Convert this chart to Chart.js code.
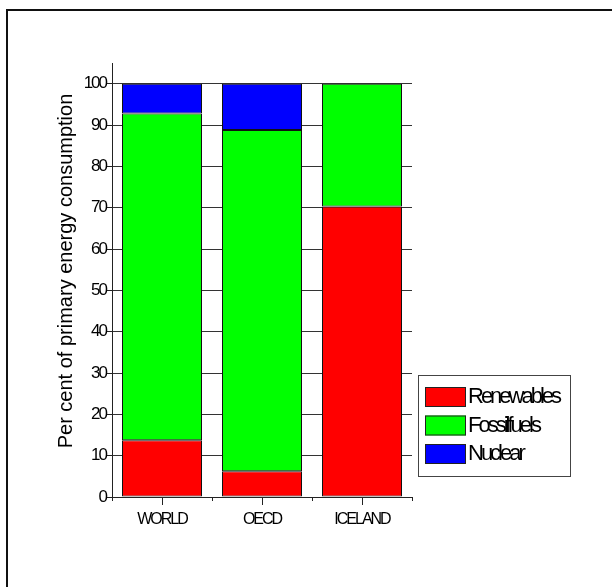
<!DOCTYPE html>
<html>
<head>
<meta charset="utf-8">
<script src="https://cdn.jsdelivr.net/npm/chart.js@4/dist/chart.umd.min.js"></script>
<style>
  body { margin: 0; background: #fff; }
  #frame {
    position: absolute; left: 6px; top: 9px; width: 700px; height: 700px;
    border-left: 2px solid #111; border-top: 2px solid #111;
  }
  #wrap { position: absolute; left: 0; top: 0; width: 612px; height: 587px; }
</style>
</head>
<body>
<div id="frame"></div>
<div id="wrap"><canvas id="chart" width="612" height="587"></canvas></div>
<script>
// data
const regions = ['WORLD', 'OECD', 'ICELAND'];
const renewables = [13.7, 6.2, 70.3];
const fossilFuels = [79.1, 82.6, 29.7];
const nuclear = [7.2, 11.2, 0];
const yTicks = [0, 10, 20, 30, 40, 50, 60, 70, 80, 90, 100];
const yTitle = 'Per cent of primary energy consumption';
const legendLabels = ['Renewables', 'Fossilfuels', 'Nuclear'];

const font = 'Liberation Sans, Arial, sans-serif';

// squeezed text like the old plotting program, title and legend drawn here
const extras = {
  id: 'extras',
  beforeDraw(chart) {
    chart.ctx.letterSpacing = '-2px';
  },
  afterDraw(chart) {
    const ctx = chart.ctx;
    const x = chart.scales.x;
    // small ticks under each bar
    ctx.save();
    ctx.strokeStyle = '#222';
    ctx.lineWidth = 1;
    regions.forEach((r, i) => {
      const px = Math.round(x.getPixelForValue(i)) + 0.5;
      ctx.beginPath();
      ctx.moveTo(px, x.top);
      ctx.lineTo(px, x.top + 8);
      ctx.stroke();
    });
    ctx.restore();

    // y axis title
    ctx.save();
    ctx.letterSpacing = '0px';
    ctx.fillStyle = '#000';
    ctx.font = '20px ' + font;
    ctx.textAlign = 'center';
    ctx.textBaseline = 'middle';
    ctx.translate(66, 271);
    ctx.rotate(-Math.PI / 2);
    ctx.fillText(yTitle, 0, 0);
    ctx.restore();

    // legend box
    ctx.save();
    ctx.letterSpacing = '-3px';
    ctx.strokeStyle = '#444';
    ctx.lineWidth = 1;
    ctx.strokeRect(418.5, 375.5, 152, 101);
    ctx.font = '22px ' + font;
    ctx.textBaseline = 'middle';
    chart.data.datasets.forEach((ds, i) => {
      const top = 387 + i * 28.5;
      ctx.fillStyle = ds.backgroundColor;
      ctx.fillRect(425, top, 41, 20);
      ctx.strokeStyle = '#222';
      ctx.strokeRect(425.5, top + 0.5, 40, 19);
      ctx.fillStyle = '#000';
      ctx.fillText(legendLabels[i], 468, top + 10);
    });
    ctx.restore();
  },
};

const ctx = document.getElementById('chart').getContext('2d');

const chart = new Chart(ctx, {
  type: 'bar',
  data: {
    labels: regions,
    datasets: [
      { label: legendLabels[0], data: renewables, backgroundColor: '#ff0000' },
      { label: legendLabels[1], data: fossilFuels, backgroundColor: '#00ff00' },
      { label: legendLabels[2], data: nuclear, backgroundColor: '#0000ff' },
    ],
  },
  options: {
    responsive: false,
    animation: false,
    devicePixelRatio: 1,
    datasets: {
      bar: {
        categoryPercentage: 1,
        barPercentage: 0.8,
        borderColor: '#111',
        borderWidth: 1,
        borderSkipped: false,
        inflateAmount: 0,
      },
    },
    layout: {
      padding: { left: 30, top: 63, right: 200, bottom: 50 },
    },
    plugins: {
      legend: { display: false },
      tooltip: { enabled: false },
    },
    scales: {
      x: {
        stacked: true,
        afterFit: (scale) => { scale.height = 40; },
        border: { color: '#222', width: 1 },
        grid: {
          offset: true,
          drawOnChartArea: false,
          tickLength: 4,
          tickColor: '#222',
        },
        ticks: {
          color: '#000',
          padding: 9,
          maxRotation: 0,
          font: { family: font, size: 16 },
        },
      },
      y: {
        stacked: true,
        min: 0,
        max: 105,
        afterFit: (scale) => { scale.width = 82; },
        afterBuildTicks: (scale) => {
          const t = [];
          for (let v = 0; v <= 105; v += 5) t.push({ value: v });
          scale.ticks = t;
        },
        border: { color: '#222', width: 1 },
        grid: {
          color: (c) => (yTicks.includes(c.tick.value) && c.tick.value > 0 ? '#333' : 'transparent'),
          tickColor: '#222',
          tickLength: 5,
        },
        ticks: {
          color: '#000',
          padding: 1,
          font: { family: font, size: 17 },
          callback: (v) => (yTicks.includes(v) ? String(v) : ''),
        },
      },
    },
  },
  plugins: [extras],
});
</script>
</body>
</html>
